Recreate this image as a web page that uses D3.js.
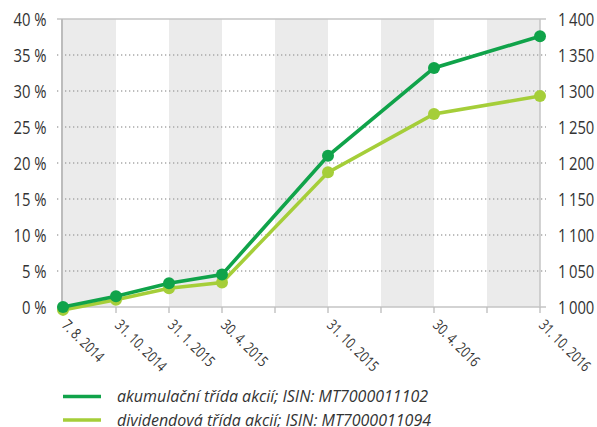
<!DOCTYPE html>
<html><head><meta charset="utf-8">
<script src="https://cdn.jsdelivr.net/npm/d3@7"></script>
<style>
body{margin:0;background:#fff;}
text{font-family:"Open Sans",sans-serif;fill:#333;}
</style></head>
<body><svg id="c" width="597" height="427"></svg>
<script>
const quarters = ["2014-08","2014-10","2015-01","2015-04","2015-07","2015-10","2016-01","2016-04","2016-07","2016-10"];
const xLabels = ["7. 8. 2014","31. 10. 2014","31. 1. 2015","30. 4. 2015","","31. 10. 2015","","30. 4. 2016","","31. 10. 2016"];
const dates = ["2014-08","2014-10","2015-01","2015-04","2015-10","2016-04","2016-10"];
const akumulacni = [0, 1.5, 3.3, 4.5, 21.0, 33.2, 37.6];
const dividendova = [-0.4, 1.0, 2.6, 3.4, 18.7, 26.8, 29.3];
const leftTicks = [0,5,10,15,20,25,30,35,40];
const rightTicks = [1000,1050,1100,1150,1200,1250,1300,1350,1400];
const seriesNames = ["akumulační třída akcií; ISIN: MT7000011102","dividendová třída akcií; ISIN: MT7000011094"];
const colors = ["#10a34a","#a5ce39"];

const svg = d3.select("#c");
const L=63, R=540, T=19, B=307;
const x = d3.scalePoint().domain(quarters).range([L,R]);
const y = d3.scaleLinear().domain([0,40]).range([B,T]);
const y2 = d3.scaleLinear().domain([1000,1400]).range([B,T]);

// bands
const intervals = d3.pairs(quarters);
svg.append("g").selectAll("rect").data(intervals).join("rect")
  .attr("x",d=>x(d[0])).attr("y",T).attr("width",d=>x(d[1])-x(d[0])).attr("height",B-T)
  .attr("fill",(d,i)=>i%2===0?"#ebebeb":"#fff");

// gridlines (dotted)
svg.append("g").selectAll("line").data(leftTicks.filter(v=>v>0&&v<40)).join("line")
  .attr("x1",L-6).attr("x2",R+6).attr("y1",d=>y(d)).attr("y2",d=>y(d))
  .attr("stroke","#a8a8a8").attr("stroke-width",1.3).attr("stroke-dasharray","1.3,2.7");

// frame lines
svg.append("line").attr("x1",L-6).attr("x2",R+6).attr("y1",y(40)).attr("y2",y(40)).attr("stroke","#c4c4c4").attr("stroke-width",1.5);
svg.append("line").attr("x1",L-6).attr("x2",R+6).attr("y1",y(0)).attr("y2",y(0)).attr("stroke","#c4c4c4").attr("stroke-width",1.5);
svg.append("line").attr("x1",L-1).attr("x2",L-1).attr("y1",T).attr("y2",B).attr("stroke","#bcbcbc").attr("stroke-width",2);
svg.append("line").attr("x1",R).attr("x2",R).attr("y1",T).attr("y2",B).attr("stroke","#c4c4c4").attr("stroke-width",1.5);

// x tick marks
svg.append("g").selectAll("line").data(quarters).join("line")
  .attr("x1",d=>x(d)).attr("x2",d=>x(d)).attr("y1",B).attr("y2",B+6)
  .attr("stroke","#bcbcbc").attr("stroke-width",1.3);

// left labels
svg.append("g").selectAll("text").data(leftTicks).join("text")
  .attr("transform",d=>`translate(46.5,${y(d)+6.5}) scale(0.8,1)`)
  .attr("text-anchor","end").attr("font-size",18.5)
  .text(d=>d+" %");
// right labels
svg.append("g").selectAll("text").data(rightTicks).join("text")
  .attr("transform",d=>`translate(558,${y2(d)+6.5}) scale(0.8,1)`)
  .attr("text-anchor","start").attr("font-size",18.5)
  .text(d=>d3.format(",")(d).replace(",","\u2009"));

// x labels
svg.append("g").selectAll("text").data(quarters.map((q,i)=>[q,xLabels[i]]).filter(d=>d[1])).join("text")
  .attr("transform",d=>`translate(${x(d[0])-2},${B+19}) rotate(45) scale(0.78,1)`)
  .attr("text-anchor","start").attr("font-size",15)
  .text(d=>d[1]);

// lines
const series=[akumulacni,dividendova];
const lineGen = d3.line().x(d=>x(d[0])).y(d=>y(d[1]));
[1,0].forEach(si=>{
  const pts = dates.map((dt,i)=>[dt,series[si][i]]);
  svg.append("path").attr("d",lineGen(pts)).attr("fill","none").attr("stroke",colors[si]).attr("stroke-width",3.6);
  svg.append("g").selectAll("circle").data(pts).join("circle")
    .attr("cx",d=>x(d[0])).attr("cy",d=>y(d[1])).attr("r",6).attr("fill",colors[si]);
});

// legend
seriesNames.forEach((n,i)=>{
  const ly = 396.5+i*23.5;
  svg.append("line").attr("x1",63).attr("x2",101).attr("y1",ly).attr("y2",ly).attr("stroke",colors[i]).attr("stroke-width",3.6);
  svg.append("text").attr("x",117).attr("y",ly+5.5).attr("font-size",16).attr("font-style","italic").text(n);
});
</script></body></html>
